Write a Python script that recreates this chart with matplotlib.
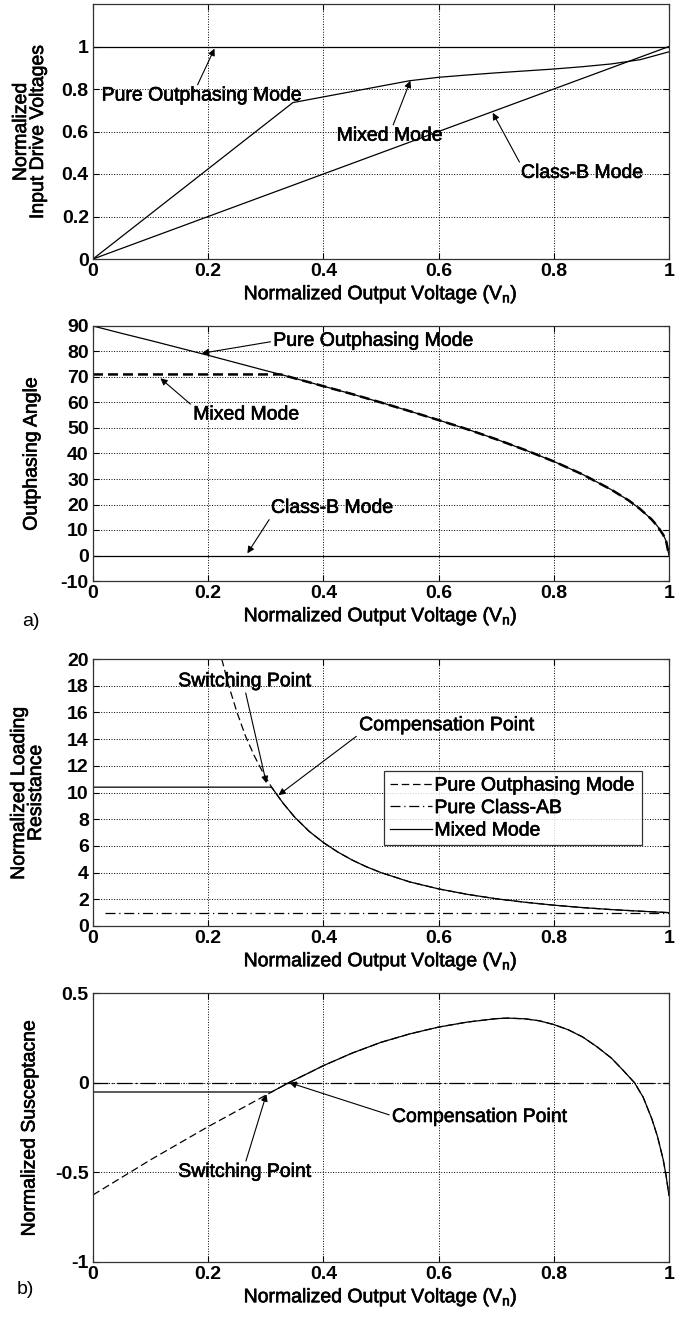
import numpy as np
import matplotlib
matplotlib.use("Agg")
import matplotlib.pyplot as plt
import matplotlib.patheffects as pe

plt.rcParams['font.family'] = ['Liberation Sans', 'DejaVu Sans']
plt.rcParams['axes.unicode_minus'] = False

# --- input drive voltages -------------------------------------------------
vn_drive = [0.0, 1.0]
drive_outphasing = [1.0, 1.0]
drive_classb = [0.0, 1.0]
vn_mixed_drive = [0.0, 0.347, 0.55, 0.60, 0.65, 0.70, 0.75, 0.80, 0.85,
                  0.90, 0.95, 1.0]
drive_mixed = [0.0, 0.736, 0.839, 0.855, 0.866, 0.876, 0.885, 0.894, 0.905,
               0.918, 0.938, 0.975]

# --- outphasing angle (deg) -----------------------------------------------
vn_angle = [0.0, 0.05, 0.10, 0.15, 0.20, 0.25, 0.30, 0.326, 0.35, 0.40, 0.45,
            0.50, 0.55, 0.60, 0.65, 0.70, 0.75, 0.80, 0.85, 0.90, 0.93, 0.95,
            0.97, 0.98, 0.99, 0.995, 1.0]
angle_outphasing = [90.0, 87.1, 84.3, 81.4, 78.5, 75.5, 72.5, 71.0, 69.5, 66.4,
                    63.3, 60.0, 56.6, 53.1, 49.5, 45.6, 41.4, 36.9, 31.8, 25.8,
                    21.6, 18.2, 14.1, 11.5, 8.1, 5.7, 0.0]
angle_mixed_flat = 71.0
angle_classb = 0.0

# --- loading resistance ---------------------------------------------------
vn_res = [0.2235, 0.235, 0.25, 0.265, 0.28, 0.295, 0.31, 0.33, 0.35, 0.375,
          0.40, 0.425, 0.45, 0.475, 0.50, 0.55, 0.60, 0.65, 0.70, 0.75, 0.80,
          0.85, 0.90, 0.95, 1.0]
res_outphasing = [20.0, 18.1, 16.0, 14.2, 12.75, 11.5, 10.4, 9.2, 8.16, 7.1,
                  6.25, 5.54, 4.94, 4.43, 4.0, 3.3, 2.78, 2.37, 2.04, 1.78,
                  1.56, 1.38, 1.23, 1.11, 1.0]
res_classab = 1.0
res_switch = 10.4
vn_switch = 0.31

# --- susceptance ----------------------------------------------------------
vn_sus = [0.0, 0.10, 0.20, 0.30, 0.31, 0.34, 0.375, 0.40, 0.45, 0.50, 0.55,
          0.60, 0.65, 0.70, 0.72, 0.75, 0.775, 0.80, 0.825, 0.85, 0.875, 0.90,
          0.92, 0.94, 0.955, 0.97, 0.98, 0.99, 0.995, 1.0]
sus_outphasing = [-0.626, -0.43, -0.245, -0.07, -0.052, 0.0, 0.055, 0.095,
                  0.165, 0.225, 0.272, 0.31, 0.338, 0.357, 0.36, 0.356, 0.345,
                  0.324, 0.295, 0.255, 0.2, 0.137, 0.07, 0.0, -0.08, -0.2,
                  -0.3, -0.43, -0.52, -0.63]
sus_classab = 0.0
sus_switch = -0.052

xticks = [0, 0.2, 0.4, 0.6, 0.8, 1]
xticklabels = ['0', '0.2', '0.4', '0.6', '0.8', '1']

W, H = 683, 1317
LEFT, RIGHT = 93, 669
fig = plt.figure(figsize=(W / 100, H / 100), dpi=100)

heavy = [pe.withStroke(linewidth=0.45, foreground='black')]
FS = 14


def make_axes(top, bottom):
    return fig.add_axes([LEFT / W, 1 - bottom / H, (RIGHT - LEFT) / W,
                         (bottom - top) / H])


def style(ax, yticks, ylabels=None):
    ax.set_xlim(0, 1)
    ax.set_xticks(xticks)
    ax.set_xticklabels(xticklabels)
    ax.set_yticks(yticks)
    if ylabels is not None:
        ax.set_yticklabels(ylabels)
    ax.grid(True, color='black', linestyle=':', linewidth=0.7)
    ax.tick_params(direction='in', top=True, right=True, length=4,
                   labelsize=FS, pad=3, width=0.8)
    for lab in ax.get_xticklabels() + ax.get_yticklabels():
        lab.set_fontweight('bold')
    for sp in ax.spines.values():
        sp.set_linewidth(0.9)
        sp.set_color('#333333')
    ax.set_xlabel('Normalized Output Voltage (V$_\\mathregular{n}$)',
                  fontsize=FS, labelpad=3, path_effects=heavy)


def ylabel(ax, text, x_px):
    lab = ax.set_ylabel(text, fontsize=FS, linespacing=1.0,
                        path_effects=heavy)
    lab.set_verticalalignment('center')
    ax.yaxis.set_label_coords((x_px - LEFT) / (RIGHT - LEFT), 0.5)


arrow = dict(arrowstyle='-|>', color='black', lw=0.8, mutation_scale=10,
             shrinkA=0, shrinkB=0)


def note(ax, text, xy, xytext, relpos):
    ax.annotate(text, xy=xy, xytext=xytext, fontsize=FS, ha='left',
                va='center', path_effects=heavy,
                arrowprops={**arrow, 'relpos': relpos})


# panel 1
ax1 = make_axes(4, 259)
ax1.plot(vn_drive, drive_outphasing, color='black', lw=0.9)
ax1.plot(vn_drive, drive_classb, color='black', lw=0.9)
ax1.plot(vn_mixed_drive, drive_mixed, color='black', lw=0.9)
ax1.set_ylim(0, 1.2)
style(ax1, [0, 0.2, 0.4, 0.6, 0.8, 1], ['0', '0.2', '0.4', '0.6', '0.8', '1'])
ylabel(ax1, 'Normalized\nInput Drive Voltages', 30)
note(ax1, 'Pure Outphasing Mode', (0.211, 0.99), (0.015, 0.767), (0.47, 1.0))
note(ax1, 'Mixed Mode', (0.551, 0.839), (0.423, 0.578), (0.52, 1.0))
note(ax1, 'Class-B Mode', (0.694, 0.688), (0.743, 0.403), (0.0, 1.0))

# panel 2
ax2 = make_axes(326, 581)
ax2.plot(vn_angle, angle_outphasing, color='black', lw=0.9)
ax2.axhline(angle_classb, color='black', lw=0.9)
mixed_x = [0.0] + [v for v in vn_angle if v >= 0.326]
mixed_y = [angle_mixed_flat] + [a for v, a in zip(vn_angle, angle_outphasing)
                                if v >= 0.326]
ax2.plot(mixed_x, mixed_y, color='black', lw=1.8, linestyle=(0, (4, 2)))
ax2.set_ylim(-10, 90)
angle_ticks = list(range(-10, 91, 10))
style(ax2, angle_ticks, [str(t) for t in angle_ticks])
ylabel(ax2, 'Outphasing Angle', 32)
note(ax2, 'Pure Outphasing Mode', (0.189, 79.3), (0.313, 84.0), (0.0, 0.5))
note(ax2, 'Mixed Mode', (0.117, 69.5), (0.174, 55.1), (0.0, 1.0))
note(ax2, 'Class-B Mode', (0.268, 0.85), (0.309, 18.5), (0.0, 0.0))
fig.text(22 / W, 1 - 622 / H, 'a)', fontsize=FS, va='center', ha='left')

# panel 3
ax3 = make_axes(659, 926)
ax3.plot(vn_res, res_outphasing, color='black', lw=0.9, linestyle=(0, (6, 3)),
         label='Pure Outphasing Mode')
ax3.plot([0.02, 1.0], [res_classab, res_classab], color='black', lw=0.9,
         linestyle=(0, (8, 3, 1, 3)), label='Pure Class-AB')
mx = [0.0] + [v for v in vn_res if v >= vn_switch]
my = [res_switch] + [r for v, r in zip(vn_res, res_outphasing) if v >= vn_switch]
ax3.plot(mx, my, color='black', lw=0.9, label='Mixed Mode')
ax3.set_ylim(0, 20)
style(ax3, list(range(0, 21, 2)))
ylabel(ax3, 'Normalized Loading\nResistance', 28)
leg = ax3.legend(loc='upper left', bbox_to_anchor=(0.505, 0.58), fontsize=FS,
                 frameon=True, fancybox=False, edgecolor='black',
                 handlelength=2.2, handletextpad=0.1, borderpad=0.3,
                 labelspacing=0.25, borderaxespad=0)
leg.get_frame().set_linewidth(0.9)
for t in leg.get_texts():
    t.set_path_effects(heavy)
note(ax3, 'Switching Point', (0.301, 10.7), (0.148, 18.3), (0.5, 0.0))
note(ax3, 'Compensation Point', (0.322, 9.8), (0.462, 15.0), (0.0, 0.0))

# panel 4
ax4 = make_axes(993, 1262)
ax4.plot(vn_sus, sus_outphasing, color='black', lw=0.9, linestyle=(0, (6, 3)))
ax4.plot([0.0, 1.0], [sus_classab, sus_classab], color='black', lw=0.9,
         linestyle=(0, (12, 3, 1, 3)))
sx = [0.0] + [v for v in vn_sus if v >= 0.31]
sy = [sus_switch] + [s for v, s in zip(vn_sus, sus_outphasing) if v >= 0.31]
ax4.plot(sx, sy, color='black', lw=0.9)
ax4.set_ylim(-1, 0.5)
style(ax4, [-1, -0.5, 0, 0.5], ['-1', '-0.5', '0', '0.5'])
ylabel(ax4, 'Normalized Susceptacne', 30)
note(ax4, 'Compensation Point', (0.341, 0.0), (0.519, -0.194), (0.0, 0.6))
note(ax4, 'Switching Point', (0.301, -0.065), (0.148, -0.5), (0.5, 1.0))
fig.text(17 / W, 1 - 1290 / H, 'b)', fontsize=FS, va='center', ha='left')

fig.savefig('out.png', dpi=100, facecolor='white')
